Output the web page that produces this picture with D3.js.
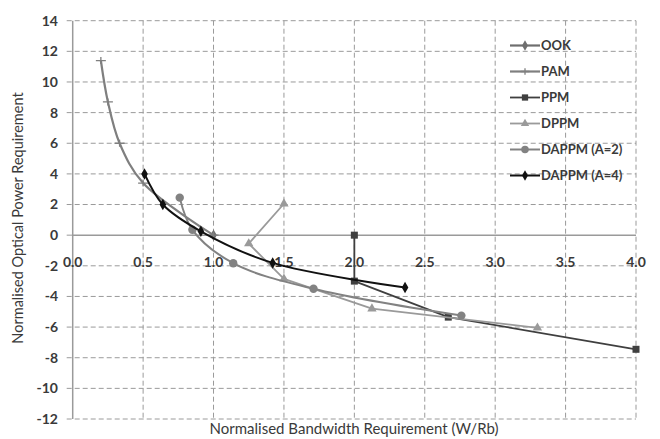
<!DOCTYPE html>
<html><head><meta charset="utf-8">
<script src="https://cdn.jsdelivr.net/npm/d3@7"></script>
<style>body{margin:0;background:#fff;} svg{display:block;}</style>
</head><body>
<svg id="c" width="660" height="439"></svg>
<script>
const xTicks = [0,0.5,1,1.5,2,2.5,3,3.5,4];
const xTickLabels = ["0.0","0.5","1.0","1.5","2.0","2.5","3.0","3.5","4.0"];
const yTicks = [-12,-10,-8,-6,-4,-2,0,2,4,6,8,10,12,14];

const ookX = [1.0];
const ookY = [0];
const pamX = [0.2, 0.25, 0.333, 0.5, 1.0];
const pamY = [11.4, 8.7, 6.0, 3.4, 0];
const ppmX = [2.0, 2.0, 2.667, 4.0];
const ppmY = [0, -3.0, -5.35, -7.45];
const dppmX = [1.5, 1.25, 1.5, 2.125, 3.3];
const dppmY = [2.05, -0.55, -2.85, -4.8, -6.05];
const dappm2X = [0.76, 0.85, 1.14, 1.71, 2.76];
const dappm2Y = [2.45, 0.35, -1.83, -3.5, -5.25];
const dappm4X = [0.51, 0.64, 0.91, 1.42, 2.36];
const dappm4Y = [4.0, 2.0, 0.25, -1.81, -3.42];

const seriesNames = ["OOK","PAM","PPM","DPPM","DAPPM (A=2)","DAPPM (A=4)"];

const svg = d3.select("#c");
const x = d3.scaleLinear().domain([0,4]).range([72.7,636]);
const y = d3.scaleLinear().domain([-12,14]).range([419,20.7]);
const font = "Lato, 'Open Sans', sans-serif";
const txt = "#3a3a3a";

// grid
const g = svg.append("g");
g.selectAll("line.hg").data(yTicks.filter(d=>d!==0)).join("line")
  .attr("x1", x(0)-6).attr("x2", x(4)).attr("y1", d=>y(d)).attr("y2", d=>y(d))
  .attr("stroke","#9a9a9a").attr("stroke-width",1).attr("stroke-dasharray","5,3");
g.selectAll("line.vg").data(xTicks.filter(d=>d!==0)).join("line")
  .attr("x1", d=>x(d)).attr("x2", d=>x(d)).attr("y1", y(14)).attr("y2", y(-12))
  .attr("stroke","#9a9a9a").attr("stroke-width",1).attr("stroke-dasharray","5,3");
g.append("line").attr("x1",x(0)-6).attr("x2",x(0)).attr("y1",y(0)).attr("y2",y(0)).attr("stroke","#9a9a9a");
// axes
g.append("line").attr("x1",x(0)).attr("x2",x(0)).attr("y1",y(14)).attr("y2",y(-12))
  .attr("stroke","#9a9a9a").attr("stroke-width",1.5);
g.append("line").attr("x1",x(0)).attr("x2",x(4)).attr("y1",y(0)).attr("y2",y(0))
  .attr("stroke","#9a9a9a").attr("stroke-width",1.5);

// tick labels
svg.append("g").selectAll("text").data(yTicks).join("text")
  .attr("x",58).attr("y",d=>y(d)).attr("dy","0.35em").attr("text-anchor","end")
  .attr("font-family",font).attr("font-size",14).attr("font-weight","bold").attr("fill",txt)
  .text(d=>d);
svg.append("g").selectAll("text").data(xTicks).join("text")
  .attr("x",d=>x(d)).attr("y",y(0)+27).attr("dy","0.35em").attr("text-anchor","middle")
  .attr("font-family",font).attr("font-size",14).attr("font-weight","bold").attr("fill",txt)
  .text((d,i)=>xTickLabels[i]);

// titles
svg.append("text").attr("x",354).attr("y",429).attr("dy","0.35em").attr("text-anchor","middle")
  .attr("font-family",font).attr("font-size",15).attr("fill",txt)
  .text("Normalised Bandwidth Requirement  (W/Rb)");
svg.append("text").attr("transform","translate(18,218) rotate(-90)").attr("dy","0.35em").attr("text-anchor","middle")
  .attr("font-family",font).attr("font-size",14.5).attr("fill",txt)
  .text("Normalised Optical Power Requirement");

function pts(xs, ys){ return xs.map((v,i)=>[v, ys[i]]); }
const series = [
  {name:"OOK", data:pts(ookX,ookY), color:"#6e6e6e", w:2.2, marker:"diamond", curve:d3.curveLinear},
  {name:"PAM", data:pts(pamX,pamY), color:"#7f7f7f", w:2.2, marker:"plus", curve:d3.curveCatmullRom.alpha(0.5)},
  {name:"PPM", data:pts(ppmX,ppmY), color:"#3f3f3f", w:1.8, marker:"square", curve:d3.curveLinear},
  {name:"DPPM", data:pts(dppmX,dppmY), color:"#9a9a9a", w:1.8, marker:"triangle", curve:d3.curveLinear},
  {name:"DAPPM (A=2)", data:pts(dappm2X,dappm2Y), color:"#828282", w:2, marker:"circle", curve:d3.curveCatmullRom.alpha(0.5)},
  {name:"DAPPM (A=4)", data:pts(dappm4X,dappm4Y), color:"#111111", w:2, marker:"diamond", curve:d3.curveCatmullRom.alpha(0.5)}
];

function drawMarker(sel, type, color, cx, cy, scale){
  scale = scale || 1;
  if(type==="diamond"){
    sel.append("path").attr("d", d3.symbol(d3.symbolDiamond, 38*scale)()).attr("transform",`translate(${cx},${cy})`).attr("fill",color);
  } else if(type==="square"){
    const s=7*Math.sqrt(scale);
    sel.append("rect").attr("x",cx-s/2).attr("y",cy-s/2).attr("width",s).attr("height",s).attr("fill",color);
  } else if(type==="triangle"){
    sel.append("path").attr("d", d3.symbol(d3.symbolTriangle, 38*scale)()).attr("transform",`translate(${cx},${cy})`).attr("fill",color);
  } else if(type==="circle"){
    sel.append("circle").attr("cx",cx).attr("cy",cy).attr("r",4.2*Math.sqrt(scale)).attr("fill",color);
  } else if(type==="plus"){
    const hw=5*Math.sqrt(scale), hh=3.5*Math.sqrt(scale);
    sel.append("path").attr("d",`M${cx-hw},${cy}H${cx+hw}M${cx},${cy-hh}V${cy+hh}`).attr("stroke",color).attr("stroke-width",1.3).attr("fill","none");
  }
}

const plot = svg.append("g");
series.forEach(s=>{
  const line = d3.line().x(d=>x(d[0])).y(d=>y(d[1])).curve(s.curve);
  if(s.data.length>1){
    plot.append("path").attr("d",line(s.data)).attr("fill","none").attr("stroke",s.color).attr("stroke-width",s.w).attr("stroke-linejoin","round");
  }
  s.data.forEach(d=>drawMarker(plot, s.marker, s.color, x(d[0]), y(d[1])));
});

// legend
const lg = svg.append("g");
series.forEach((s,i)=>{
  const ly = 45.5 + i*26;
  lg.append("line").attr("x1",510).attr("x2",540).attr("y1",ly).attr("y2",ly).attr("stroke",s.color).attr("stroke-width",s.w);
  drawMarker(lg, s.marker, s.color, 525, ly, 0.8);
  lg.append("text").attr("x",541).attr("y",ly).attr("dy","0.35em")
    .attr("font-family",font).attr("font-size",13).attr("font-weight","bold").attr("fill",txt).text(seriesNames[i]);
});
</script>
</body></html>
